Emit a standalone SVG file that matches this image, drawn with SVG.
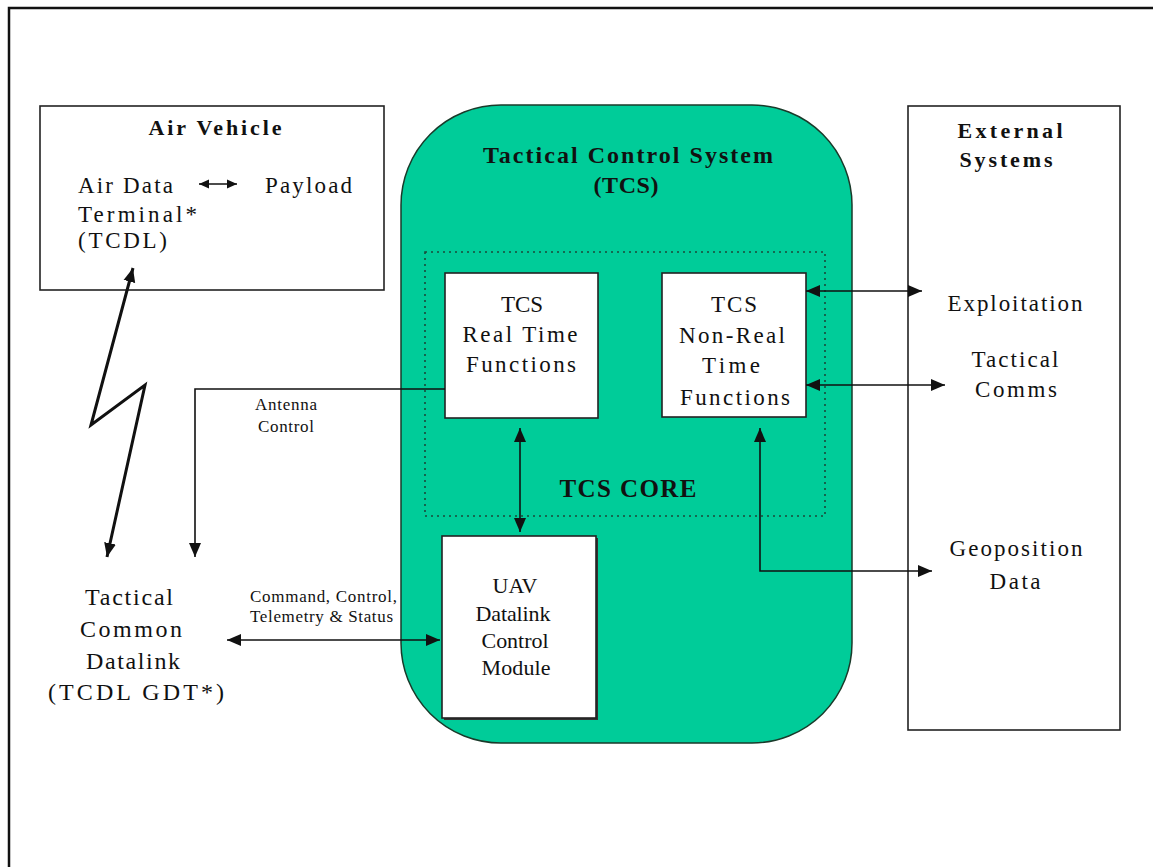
<svg xmlns="http://www.w3.org/2000/svg" width="1153" height="867" viewBox="0 0 1153 867">
<style>
text{font-family:"Liberation Serif","Times New Roman",serif;fill:#111;}
.b{font-weight:bold;}
.box{fill:#fff;stroke:#222;stroke-width:1.6;}
.ln{fill:none;stroke:#111;stroke-width:1.6;}
.bolt{fill:none;stroke:#111;stroke-width:3;stroke-linejoin:miter;}
</style>
<defs>
<marker id="ah" markerUnits="userSpaceOnUse" markerWidth="16" markerHeight="14" refX="14" refY="6" orient="auto-start-reverse" viewBox="0 0 16 12">
<path d="M0,0 L14,6 L0,12 Z" fill="#111"/>
</marker>
<marker id="ahs" markerUnits="userSpaceOnUse" markerWidth="12" markerHeight="10" refX="10" refY="4.5" orient="auto-start-reverse" viewBox="0 0 12 9">
<path d="M0,0 L10,4.5 L0,9 Z" fill="#111"/>
</marker>
</defs>
<rect width="1153" height="867" fill="#fff"/>
<path d="M9,867 V8 H1153" fill="none" stroke="#111" stroke-width="2.5"/>

<g id="air-vehicle">
<rect class="box" x="40" y="106" width="344" height="184"/>
<text class="b" x="215" y="135" font-size="22" text-anchor="middle" textLength="133" lengthAdjust="spacing">Air Vehicle</text>
<text x="78" y="193" font-size="23" textLength="95" lengthAdjust="spacing">Air Data</text>
<text x="78" y="222" font-size="23" textLength="119" lengthAdjust="spacing">Terminal*</text>
<text x="78" y="248" font-size="23" textLength="89" lengthAdjust="spacing">(TCDL)</text>
<text x="265" y="193" font-size="23" textLength="87" lengthAdjust="spacing">Payload</text>
</g>

<g id="tcs">
<rect x="401" y="105" width="451" height="638" rx="100" ry="100" fill="#00CC99" stroke="#1a3a2a" stroke-width="1.5"/>
<text class="b" x="628" y="163" font-size="24" text-anchor="middle" textLength="290" lengthAdjust="spacing">Tactical Control System</text>
<text class="b" x="626" y="193" font-size="24" text-anchor="middle" textLength="65" lengthAdjust="spacing">(TCS)</text>
</g>

<g id="tcs-core">
<rect x="425" y="252" width="400" height="264" fill="none" stroke="#1a4a3a" stroke-width="1.6" stroke-dasharray="2,4"/>
<text class="b" x="628" y="497" font-size="25" text-anchor="middle" textLength="137" lengthAdjust="spacing">TCS CORE</text>
</g>

<g id="tcs-real-time">
<rect class="box" x="445" y="273" width="153" height="145"/>
<text x="522" y="312" font-size="23" text-anchor="middle" textLength="42" lengthAdjust="spacing">TCS</text>
<text x="520" y="342" font-size="23" text-anchor="middle" textLength="115" lengthAdjust="spacing">Real Time</text>
<text x="521" y="372" font-size="23" text-anchor="middle" textLength="110" lengthAdjust="spacing">Functions</text>
</g>

<g id="tcs-non-real-time">
<rect class="box" x="662" y="273" width="144" height="144"/>
<text x="734" y="312" font-size="23" text-anchor="middle" textLength="46" lengthAdjust="spacing">TCS</text>
<text x="732" y="343" font-size="23" text-anchor="middle" textLength="106" lengthAdjust="spacing">Non-Real</text>
<text x="731" y="373" font-size="23" text-anchor="middle" textLength="58" lengthAdjust="spacing">Time</text>
<text x="735" y="405" font-size="23" text-anchor="middle" textLength="110" lengthAdjust="spacing">Functions</text>
</g>

<g id="uav-datalink">
<rect x="444" y="538" width="154" height="182" fill="#333"/>
<rect class="box" x="442" y="536" width="154" height="182"/>
<text x="515" y="593" font-size="22" text-anchor="middle" textLength="45" lengthAdjust="spacing">UAV</text>
<text x="513" y="621" font-size="22" text-anchor="middle" textLength="75" lengthAdjust="spacing">Datalink</text>
<text x="515" y="648" font-size="22" text-anchor="middle" textLength="67" lengthAdjust="spacing">Control</text>
<text x="516" y="675" font-size="22" text-anchor="middle" textLength="69" lengthAdjust="spacing">Module</text>
</g>

<g id="tcdl-gdt">
<text x="129" y="605" font-size="24" text-anchor="middle" textLength="88" lengthAdjust="spacing">Tactical</text>
<text x="131" y="637" font-size="24" text-anchor="middle" textLength="102" lengthAdjust="spacing">Common</text>
<text x="133" y="669" font-size="24" text-anchor="middle" textLength="94" lengthAdjust="spacing">Datalink</text>
<text x="136" y="700" font-size="24" text-anchor="middle" textLength="176" lengthAdjust="spacing">(TCDL GDT*)</text>
</g>

<g id="external-systems">
<rect class="box" x="908" y="106" width="212" height="624"/>
<text class="b" x="1010" y="138" font-size="22" text-anchor="middle" textLength="105" lengthAdjust="spacing">External</text>
<text class="b" x="1006" y="167" font-size="22" text-anchor="middle" textLength="93" lengthAdjust="spacing">Systems</text>
<text x="1015" y="311" font-size="23" text-anchor="middle" textLength="135" lengthAdjust="spacing">Exploitation</text>
<text x="1015" y="367" font-size="23" text-anchor="middle" textLength="87" lengthAdjust="spacing">Tactical</text>
<text x="1016" y="397" font-size="23" text-anchor="middle" textLength="82" lengthAdjust="spacing">Comms</text>
<text x="1016" y="556" font-size="23" text-anchor="middle" textLength="133" lengthAdjust="spacing">Geoposition</text>
<text x="1015" y="589" font-size="23" text-anchor="middle" textLength="51" lengthAdjust="spacing">Data</text>
</g>

<g id="connectors">
<line class="ln" x1="199" y1="184" x2="237" y2="184" marker-start="url(#ahs)" marker-end="url(#ahs)" stroke-width="2.5"/>
<polyline class="bolt" points="133,268 91,425 145,385 107,557" marker-start="url(#ah)" marker-end="url(#ah)"/>
<polyline class="ln" points="445,389 195,389 195,557" marker-end="url(#ah)"/>
<text x="255" y="410" font-size="17" textLength="62" lengthAdjust="spacing">Antenna</text>
<text x="258" y="432" font-size="17" textLength="56" lengthAdjust="spacing">Control</text>
<line class="ln" x1="227" y1="640" x2="440" y2="640" marker-start="url(#ah)" marker-end="url(#ah)"/>
<text x="250" y="602" font-size="17" textLength="147" lengthAdjust="spacing">Command, Control,</text>
<text x="250" y="622" font-size="17" textLength="143" lengthAdjust="spacing">Telemetry &amp; Status</text>
<line class="ln" x1="520" y1="428" x2="520" y2="532" marker-start="url(#ah)" marker-end="url(#ah)"/>
<line class="ln" x1="806" y1="291" x2="922" y2="291" marker-start="url(#ah)" marker-end="url(#ah)"/>
<line class="ln" x1="806" y1="385" x2="945" y2="385" marker-start="url(#ah)" marker-end="url(#ah)"/>
<polyline class="ln" points="932,571 760,571 760,428" marker-start="url(#ah)" marker-end="url(#ah)"/>
</g>
</svg>
